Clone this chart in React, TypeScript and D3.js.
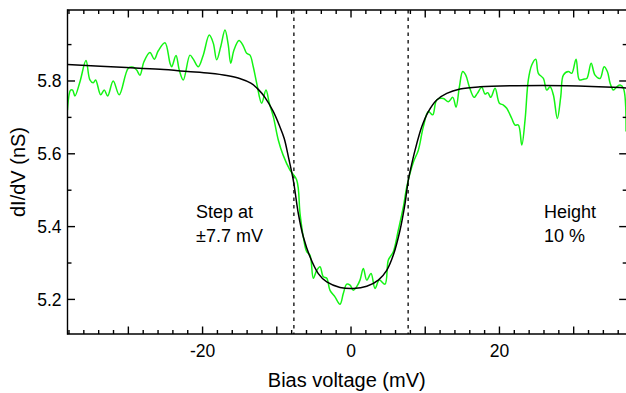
import React from "react";
import * as d3 from "d3";

const measX = [-38.21,-37.78,-37.51,-37.2,-36.52,-35.71,-35.18,-34.73,-34.41,-33.73,-33.25,-32.79,-32.04,-31.23,-30.01,-29.34,-28.88,-28.44,-27.9,-27.09,-26.51,-25.97,-25.07,-24.39,-24.16,-23.58,-23.14,-22.6,-21.7,-21.25,-20.58,-19.91,-19.1,-18.56,-18.1,-17.56,-16.98,-16.54,-16.21,-15.77,-15.09,-14.51,-14.06,-13.61,-13.17,-12.71,-12.04,-11.46,-11.01,-10.47,-9.8,-9.16,-8.22,-7.32,-6.87,-6.43,-5.97,-5.53,-5.08,-4.62,-4.18,-3.73,-3.27,-2.83,-2.16,-1.48,-1.04,-0.58,-0.13,0.31,0.77,1.21,1.66,2.12,2.7,3.23,3.81,4.58,5.03,5.7,6.37,7.05,7.51,8.36,9.07,9.74,10.42,11.01,11.55,12.44,13.11,13.71,14.15,14.6,15.05,15.46,15.94,16.58,17.02,17.61,18.06,18.42,18.83,19.41,19.99,20.53,20.98,21.66,22.1,22.55,23.01,23.45,23.89,24.35,24.89,25.24,25.92,26.37,26.82,27.26,27.8,28.26,28.61,29.29,29.74,30.32,30.77,31.31,31.77,32.35,32.88,33.56,34.1,34.54,34.91,35.35,35.81,36.25,36.7,37.06];
const measY = [5.72,5.775,5.775,5.759,5.798,5.856,5.803,5.795,5.803,5.762,5.775,5.759,5.8,5.762,5.835,5.838,5.83,5.816,5.853,5.878,5.86,5.883,5.905,5.849,5.839,5.87,5.83,5.803,5.871,5.86,5.839,5.871,5.926,5.904,5.858,5.894,5.94,5.899,5.849,5.885,5.911,5.896,5.876,5.871,5.839,5.794,5.739,5.775,5.739,5.702,5.638,5.597,5.555,5.528,5.436,5.372,5.331,5.322,5.258,5.28,5.29,5.262,5.258,5.225,5.207,5.187,5.216,5.242,5.239,5.225,5.235,5.253,5.285,5.253,5.271,5.23,5.253,5.242,5.308,5.331,5.39,5.454,5.509,5.575,5.61,5.674,5.716,5.707,5.748,5.752,5.743,5.755,5.728,5.784,5.826,5.816,5.784,5.755,5.766,5.783,5.764,5.768,5.755,5.78,5.739,5.734,5.725,5.697,5.679,5.679,5.624,5.693,5.803,5.844,5.86,5.821,5.807,5.775,5.784,5.762,5.697,5.757,5.816,5.826,5.821,5.86,5.803,5.805,5.807,5.849,5.816,5.807,5.839,5.826,5.794,5.775,5.784,5.789,5.78,5.661];

const fitX = [-38.21,-30.23,-25.74,-22.0,-19.0,-16.75,-15.0,-13.5,-12.5,-11.6,-10.5,-9.6,-9.0,-8.4,-7.78,-7.1,-6.43,-5.53,-4.41,-3.27,-1.48,0.31,2.12,3.68,4.81,5.7,6.6,7.28,7.72,8.15,8.63,9.53,10.42,11.55,12.9,14.69,17.39,22.33,29.07,36.25,37.06];
const fitY = [5.845,5.837,5.832,5.826,5.821,5.815,5.807,5.794,5.777,5.755,5.717,5.675,5.642,5.588,5.528,5.436,5.372,5.317,5.271,5.248,5.233,5.23,5.236,5.253,5.28,5.322,5.39,5.464,5.528,5.569,5.61,5.674,5.716,5.748,5.766,5.778,5.784,5.787,5.787,5.782,5.781];

const stepPositions = [-7.7, 7.7];
const xTickLabels = [-20, 0, 20];
const yTickLabels = [5.2, 5.4, 5.6, 5.8];

const W = 626, H = 393;
const L = 67.5, R = 626, T = 10, B = 334;

export default function App() {
  const x = d3.scaleLinear().domain([-38.2, 37.05]).range([L, R]);
  const y = d3.scaleLinear().domain([5.105, 5.995]).range([B, T]);

  const meas = measX.map((v, i) => [v, measY[i]] as [number, number]);
  const fit = fitX.map((v, i) => [v, fitY[i]] as [number, number]);

  const measLine = d3.line<[number, number]>().x(d => x(d[0])).y(d => y(d[1])).curve(d3.curveCatmullRom.alpha(0.5));
  const fitLine = d3.line<[number, number]>().x(d => x(d[0])).y(d => y(d[1])).curve(d3.curveCatmullRom.alpha(0.5));

  const xMinor = d3.range(-38, 38, 2);
  const yMinor = d3.range(5.2, 6.0, 0.1);

  const font = "'Liberation Sans', Arial, Helvetica, sans-serif";

  return (
    <svg width={W} height={H} style={{ position: "fixed", left: 0, top: 0, background: "#fff" }} fontFamily={font}>
      <defs>
        <clipPath id="plot"><rect x={L} y={T} width={R - L} height={B - T} /></clipPath>
      </defs>
      {stepPositions.map((s, i) => (
        <line key={i} x1={x(s)} x2={x(s)} y1={T} y2={B} stroke="#333" strokeWidth={1.6} strokeDasharray="3.5,4" />
      ))}
      <g clipPath="url(#plot)">
        <path d={measLine(meas) || ""} fill="none" stroke="#14f414" strokeWidth={1.5} />
        <path d={fitLine(fit) || ""} fill="none" stroke="#000" strokeWidth={1.5} />
      </g>
      <g stroke="#000" strokeWidth={1.4}>
        <line x1={L} x2={L} y1={T - 0.7} y2={B + 0.7} />
        <line x1={L} x2={R} y1={B} y2={B} />
        <line x1={L} x2={R} y1={T} y2={T} />
        {xMinor.map(v => {
          const major = v % 10 === 0;
          const len = major ? 7.5 : 4;
          return (
            <g key={v}>
              <line x1={x(v)} x2={x(v)} y1={B} y2={B - len} />
              <line x1={x(v)} x2={x(v)} y1={T} y2={T + len} />
            </g>
          );
        })}
        {yMinor.map((v, i) => {
          const major = i % 2 === 0;
          const len = major ? 7.5 : 4;
          return (
            <g key={i}>
              <line x1={L} x2={L + len} y1={y(v)} y2={y(v)} />
              <line x1={R + 0.7} x2={R + 0.7 - len} y1={y(v)} y2={y(v)} />
            </g>
          );
        })}
      </g>
      <g fontSize={17.5} fill="#000">
        {xTickLabels.map(v => (
          <text key={v} x={x(v)} y={357} textAnchor="middle">{v === 0 ? "0" : (v < 0 ? "-" + Math.abs(v) : String(v))}</text>
        ))}
        {yTickLabels.map(v => (
          <text key={v} x={61.5} y={y(v)} dy="0.35em" textAnchor="end">{v.toFixed(1)}</text>
        ))}
      </g>
      <text x={(L + R) / 2} y={387} textAnchor="middle" fontSize={20}>Bias voltage (mV)</text>
      <text transform={`translate(25,${(T + B) / 2}) rotate(-90)`} textAnchor="middle" fontSize={20}>dI/dV (nS)</text>
      <g fontSize={18}>
        <text x={196} y={218}>Step at</text>
        <text x={196} y={242}>±7.7 mV</text>
        <text x={544} y={218}>Height</text>
        <text x={544} y={242}>10 %</text>
      </g>
    </svg>
  );
}
